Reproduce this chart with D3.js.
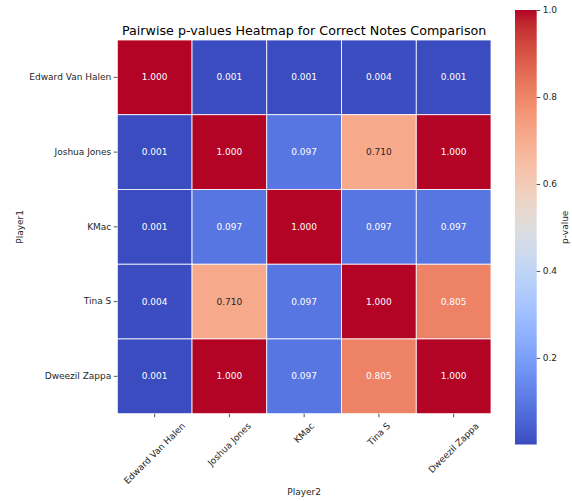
<!DOCTYPE html>
<html>
<head>
<meta charset="utf-8">
<script src="https://cdn.jsdelivr.net/npm/d3@7"></script>
<style>
  html, body { margin: 0; padding: 0; background: #fff; }
  svg { display: block; font-family: "DejaVu Sans", sans-serif; }
</style>
</head>
<body>
<svg id="chart" width="572" height="501"></svg>
<script>
// Players compared (rows = Player1, columns = Player2)
const players = ["Edward Van Halen", "Joshua Jones", "KMac", "Tina S", "Dweezil Zappa"];

// Pairwise p-values, one array per Player1 row
const rowEdwardVanHalen = [1.000, 0.001, 0.001, 0.004, 0.001];
const rowJoshuaJones    = [0.001, 1.000, 0.097, 0.710, 1.000];
const rowKMac           = [0.001, 0.097, 1.000, 0.097, 0.097];
const rowTinaS          = [0.004, 0.710, 0.097, 1.000, 0.805];
const rowDweezilZappa   = [0.001, 1.000, 0.097, 0.805, 1.000];
const pRows = [rowEdwardVanHalen, rowJoshuaJones, rowKMac, rowTinaS, rowDweezilZappa];

// Colorbar tick labels
const colorbarTicks = [0.2, 0.4, 0.6, 0.8, 1.0];

// Diverging "coolwarm" palette (Moreland), 33 evenly spaced stops
const coolwarmStops = [
  [59,76,192],[68,90,204],[77,104,215],[87,117,225],[98,130,234],[108,142,241],
  [119,154,247],[130,165,251],[141,176,254],[152,185,255],[163,194,255],[174,201,253],
  [184,208,249],[194,213,244],[204,217,238],[213,219,230],[221,221,221],[229,216,209],
  [236,211,197],[241,204,184],[245,196,172],[247,187,160],[247,177,148],[247,166,137],
  [244,154,123],[241,141,111],[236,127,99],[229,112,88],[222,96,77],[213,80,66],
  [203,62,56],[192,40,47],[180,4,38]
];
const coolwarm = d3.scaleLinear()
  .domain(coolwarmStops.map((_, i) => i / (coolwarmStops.length - 1)))
  .range(coolwarmStops.map(c => `rgb(${c[0]},${c[1]},${c[2]})`))
  .interpolate(d3.interpolateRgb)
  .clamp(true);

const allValues = pRows.flat();
const vmin = d3.min(allValues), vmax = d3.max(allValues);
const norm = d3.scaleLinear().domain([vmin, vmax]).range([0, 1]).clamp(true);
const colorOf = v => coolwarm(norm(v));

// Layout
const hm = { x: 117.3, y: 40, size: 373.7 };
const cb = { x: 515, y: 10, w: 21.7, h: 434.5 };
const textColor = "#262626";
const fontSize = 9;

const svg = d3.select("#chart");

const x = d3.scaleBand().domain(players).range([hm.x, hm.x + hm.size]);
const y = d3.scaleBand().domain(players).range([hm.y, hm.y + hm.size]);

// Relative luminance, used to choose annotation text colour
function luminance(col) {
  const c = d3.rgb(col);
  const f = v => { v /= 255; return v <= 0.03928 ? v / 12.92 : Math.pow((v + 0.055) / 1.055, 2.4); };
  return 0.2126 * f(c.r) + 0.7152 * f(c.g) + 0.0722 * f(c.b);
}

const cells = [];
pRows.forEach((row, i) => row.forEach((v, j) => cells.push({ r: players[i], c: players[j], v })));

// Heatmap cells
svg.append("g").selectAll("rect").data(cells).join("rect")
  .attr("x", d => x(d.c))
  .attr("y", d => y(d.r))
  .attr("width", x.bandwidth())
  .attr("height", y.bandwidth())
  .attr("fill", d => colorOf(d.v))
  .attr("stroke", "#ffffff")
  .attr("stroke-width", 0.8);

// Cell annotations
svg.append("g").selectAll("text").data(cells).join("text")
  .attr("x", d => x(d.c) + x.bandwidth() / 2)
  .attr("y", d => y(d.r) + y.bandwidth() / 2)
  .attr("text-anchor", "middle")
  .attr("dominant-baseline", "central")
  .attr("font-size", fontSize)
  .attr("fill", d => luminance(colorOf(d.v)) > 0.408 ? textColor : "#ffffff")
  .text(d => d3.format(".3f")(d.v));

// Y axis (Player1)
const yAxis = d3.axisLeft(y).tickSize(3.5).tickPadding(2.5);
const gy = svg.append("g").attr("transform", `translate(${hm.x},0)`).call(yAxis);
gy.select(".domain").remove();
gy.selectAll(".tick line").attr("stroke", textColor).attr("stroke-width", 0.8);
gy.selectAll(".tick text").attr("font-size", fontSize).attr("fill", textColor)
  .attr("font-family", "DejaVu Sans");

// X axis (Player2) with labels rotated 45°, centred on the tick
const bottom = hm.y + hm.size;
const xAxis = d3.axisBottom(x).tickSize(3.5).tickFormat("");
const gx = svg.append("g").attr("transform", `translate(0,${bottom})`).call(xAxis);
gx.select(".domain").remove();
gx.selectAll(".tick line").attr("stroke", textColor).attr("stroke-width", 0.8);

const labelTop = bottom + 7;
const xl = svg.append("g").selectAll("text").data(players).join("text")
  .attr("font-size", fontSize)
  .attr("fill", textColor)
  .attr("text-anchor", "middle")
  .attr("dominant-baseline", "central")
  .text(d => d);
xl.each(function(d) {
  const w = this.getComputedTextLength();
  const h = fontSize * 1.16;
  const half = (w + h) * Math.SQRT1_2 / 2;
  const cx = x(d) + x.bandwidth() / 2;
  const cy = labelTop + half;
  d3.select(this).attr("transform", `translate(${cx},${cy}) rotate(-45)`);
});

// Axis titles
svg.append("text")
  .attr("x", hm.x + hm.size / 2).attr("y", 495)
  .attr("text-anchor", "middle").attr("font-size", fontSize).attr("fill", textColor)
  .text("Player2");
svg.append("text")
  .attr("transform", `translate(23,${hm.y + hm.size / 2}) rotate(-90)`)
  .attr("text-anchor", "middle").attr("font-size", fontSize).attr("fill", textColor)
  .text("Player1");

// Title
svg.append("text")
  .attr("x", hm.x + hm.size / 2).attr("y", 34.5)
  .attr("text-anchor", "middle").attr("font-size", 12.7).attr("fill", "#000")
  .text("Pairwise p-values Heatmap for Correct Notes Comparison");

// Colorbar
const defs = svg.append("defs");
const grad = defs.append("linearGradient").attr("id", "cbGrad")
  .attr("x1", 0).attr("y1", 1).attr("x2", 0).attr("y2", 0);
d3.range(0, 1.0001, 1 / 64).forEach(t => {
  grad.append("stop").attr("offset", t).attr("stop-color", coolwarm(t));
});
svg.append("rect")
  .attr("x", cb.x).attr("y", cb.y).attr("width", cb.w).attr("height", cb.h)
  .attr("fill", "url(#cbGrad)");

const cbScale = d3.scaleLinear().domain([vmin, vmax]).range([cb.y + cb.h, cb.y]);
const cbAxis = d3.axisRight(cbScale).tickValues(colorbarTicks).tickSize(3.5).tickPadding(2.5)
  .tickFormat(d3.format(".1f"));
const gc = svg.append("g").attr("transform", `translate(${cb.x + cb.w},0)`).call(cbAxis);
gc.select(".domain").remove();
gc.selectAll(".tick line").attr("stroke", textColor).attr("stroke-width", 0.8);
gc.selectAll(".tick text").attr("font-size", fontSize).attr("fill", textColor)
  .attr("font-family", "DejaVu Sans");

svg.append("text")
  .attr("transform", `translate(568,${cb.y + cb.h / 2}) rotate(-90)`)
  .attr("text-anchor", "middle").attr("font-size", fontSize).attr("fill", textColor)
  .text("p-value");
</script>
</body>
</html>
